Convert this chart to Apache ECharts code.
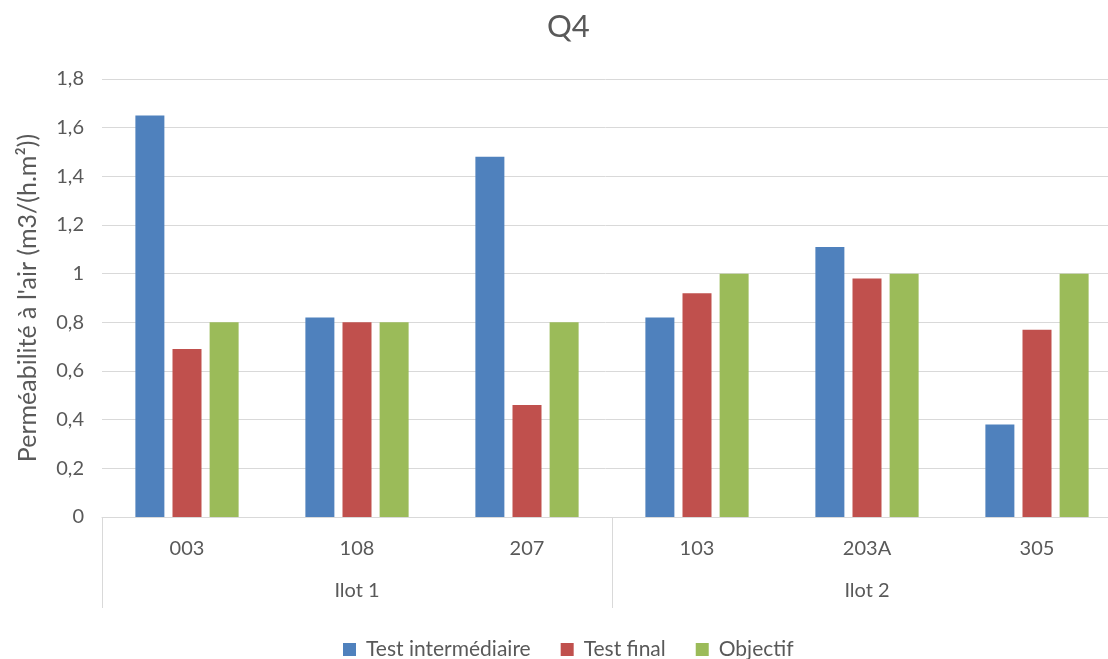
<!DOCTYPE html>
<html>
<head>
<meta charset="utf-8">
<script src="https://cdn.jsdelivr.net/npm/echarts@6/dist/echarts.min.js"></script>
<style>
  html, body { margin: 0; padding: 0; background: #fff; }
  #chart { width: 1108px; height: 659px; }
</style>
</head>
<body>
<div id="chart"></div>
<script>
// données du graphique
var categories = ['003', '108', '207', '103', '203A', '305'];
var groups = ['Ilot 1', 'Ilot 2'];
var testIntermediaire = [1.65, 0.82, 1.48, 0.82, 1.11, 0.38];
var testFinal = [0.69, 0.80, 0.46, 0.92, 0.98, 0.77];
var objectif = [0.80, 0.80, 0.80, 1.00, 1.00, 1.00];
var seriesNames = ['Test intermédiaire', 'Test final', 'Objectif'];

var FONT = 'Lato';
var TXT = '#595959';
var LINE = '#D9D9D9';

var myChart = echarts.init(document.getElementById('chart'));

var option = {
  color: ['#4F81BD', '#C0504D', '#9BBB59'],
  textStyle: { fontFamily: FONT, color: TXT },
  title: {
    text: 'Q4',
    left: 542,
    top: 6,
    textStyle: { fontFamily: FONT, fontSize: 31, fontWeight: 'normal', color: TXT }
  },
  legend: {
    data: seriesNames,
    left: 338,
    top: 634,
    icon: 'rect',
    itemWidth: 13,
    itemHeight: 13,
    itemGap: 30,
    textStyle: { fontFamily: FONT, fontSize: 21, color: TXT, padding: [0, 0, 0, 5] }
  },
  grid: {
    left: 102,
    top: 79,
    right: -14,
    bottom: 142,
    containLabel: false,
    outerBoundsMode: 'none'
  },
  xAxis: [
    {
      type: 'category',
      data: categories,
      position: 'bottom',
      axisLine: { show: true, lineStyle: { color: LINE, width: 1 } },
      axisTick: { show: false },
      axisLabel: { margin: 22, fontFamily: FONT, fontSize: 20, color: TXT }
    },
    {
      type: 'category',
      data: groups,
      position: 'bottom',
      axisLine: { show: false },
      axisTick: { show: true, length: 91, interval: 0, lineStyle: { color: LINE, width: 1 } },
      axisLabel: { margin: 64, fontFamily: FONT, fontSize: 20, color: TXT }
    }
  ],
  yAxis: {
    type: 'value',
    min: 0,
    max: 1.8,
    interval: 0.2,
    name: "Perméabilité à l'air (m3/(h.m²))",
    nameLocation: 'middle',
    nameGap: 62,
    nameRotate: 90,
    nameTextStyle: { fontFamily: FONT, fontSize: 25, color: TXT },
    axisLine: { show: false },
    axisTick: { show: false },
    splitLine: { lineStyle: { color: LINE, width: 1 } },
    axisLabel: {
      margin: 18,
      fontFamily: FONT,
      fontSize: 20,
      color: TXT,
      formatter: function (v) {
        return String(Math.round(v * 10) / 10).replace('.', ',');
      }
    }
  },
  series: [
    { name: seriesNames[0], type: 'bar', data: testIntermediaire, barWidth: 29, barGap: '28%' },
    { name: seriesNames[1], type: 'bar', data: testFinal, barWidth: 29, barGap: '28%' },
    { name: seriesNames[2], type: 'bar', data: objectif, barWidth: 29, barGap: '28%' }
  ],
  animation: false
};

myChart.setOption(option);
</script>
</body>
</html>
